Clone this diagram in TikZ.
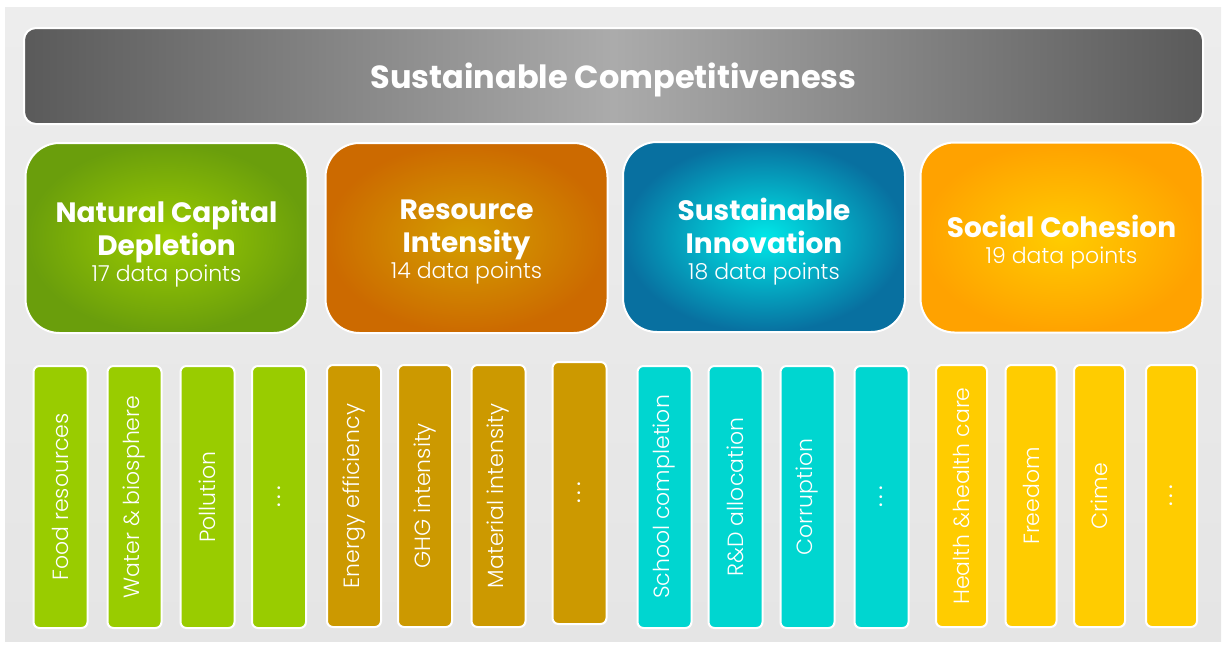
\documentclass[tikz,border=0pt]{standalone}
\usepackage{fontspec}
\setmainfont{Poppins}
\newfontfamily\lightfont{Poppins Light}
\usepackage{xcolor}

\definecolor{fondhaut}{HTML}{EDEDED}
\definecolor{fondbas}{HTML}{E5E5E5}
\definecolor{grisfonce}{HTML}{5A5A5A}
\definecolor{grisclair}{HTML}{ABABAB}
\definecolor{vertin}{HTML}{9CCC00}
\definecolor{vertout}{HTML}{6A9E0C}
\definecolor{orangein}{HTML}{D49E00}
\definecolor{orangeout}{HTML}{CC6A00}
\definecolor{bleuin}{HTML}{00E8E8}
\definecolor{bleuout}{HTML}{0870A0}
\definecolor{jauneIn}{HTML}{FFCC00}
\definecolor{jauneOut}{HTML}{FFA200}
\definecolor{vertbar}{HTML}{99CC00}
\definecolor{brunbar}{HTML}{CC9900}
\definecolor{cyanbar}{HTML}{00D6D0}
\definecolor{jaunebar}{HTML}{FFCC00}

\newcommand{\nbpts}[1]{{\mdseries\lightfont\fontsize{22}{26}\selectfont #1 data points}}
\newcommand{\pointill}{{\normalfont.\kern4pt.\kern4pt.}}

\begin{document}
\begin{tikzpicture}[x=1pt,y=-1pt,
    titre/.style={draw=white, line width=2pt, rounded corners=12pt,
      minimum width=1179pt, minimum height=96pt, inner sep=0pt,
      text height=30pt, text depth=6pt,
      left color=grisfonce, right color=grisfonce, middle color=grisclair,
      text=white, font=\fontsize{32}{36}\selectfont\bfseries},
    pilier/.style={draw=white, line width=2pt, rounded corners=34pt,
      minimum width=282pt, minimum height=190pt, inner sep=0pt,
      shading=radial},
    piliertxt/.style={text=white, align=center, inner sep=0pt,
      font=\fontsize{28}{33}\selectfont\bfseries},
    barre/.style={draw=white, line width=2pt, rounded corners=6pt,
      minimum width=262pt, minimum height=54pt, inner sep=0pt,
      rotate=90, text=white, font=\lightfont\fontsize{22}{26}\selectfont}]

    % Fond
    \useasboundingbox (0,0) rectangle (1224,646);
    \fill[top color=fondhaut, bottom color=fondbas] (5,7) rectangle (1221,641);

    % Bandeau du haut
    \node[titre] (sc) at (613.5,76) {Sustainable Competitiveness};

    % Les quatre piliers
    \node[pilier, inner color=vertin, outer color=vertout] (ncd) at (166.5,238) {};
    \node[pilier, inner color=orangein, outer color=orangeout] (ri) at (466.5,238) {};
    \node[pilier, inner color=bleuin, outer color=bleuout] (si) at (764,237) {};
    \node[pilier, inner color=jauneIn, outer color=jauneOut] (coh) at (1061.5,237.5) {};

    \node[piliertxt] (ncd-t) at (166.5,244) {Natural Capital\\Depletion\\[-7pt]\nbpts{17}};
    \node[piliertxt] (ri-t) at (466.5,242) {Resource\\Intensity\\[-7pt]\nbpts{14}};
    \node[piliertxt] (si-t) at (764,242) {Sustainable\\Innovation\\[-7pt]\nbpts{18}};
    \node[piliertxt] (coh-t) at (1061.5,242) {Social Cohesion\\[-7pt]\nbpts{19}};

    % Les indicateurs
    \foreach \cx/\txt [count=\i] in {60.5/Food resources, 134.5/Water \& biosphere,
        207.5/Pollution, 279/\pointill} {
      \node[barre, fill=vertbar] (v\i) at (\cx,497) {\txt};
    }
    \foreach \cx/\cy/\txt [count=\i] in {354/496/Energy efficiency, 425/496/GHG intensity,
        498.5/496/Material intensity, 579.5/493/\pointill} {
      \node[barre, fill=brunbar] (r\i) at (\cx,\cy) {\txt};
    }
    \foreach \cx/\txt [count=\i] in {664.5/School completion, 735.5/R\&D allocation,
        807.5/Corruption, 881.5/\pointill} {
      \node[barre, fill=cyanbar] (i\i) at (\cx,497) {\txt};
    }
    \foreach \cx/\txt [count=\i] in {961.5/Health \&health care, 1031/Freedom,
        1099.5/Crime, 1171.5/\pointill} {
      \node[barre, fill=jaunebar, minimum height=51pt] (s\i) at (\cx,496) {\txt};
    }
\end{tikzpicture}
\end{document}
